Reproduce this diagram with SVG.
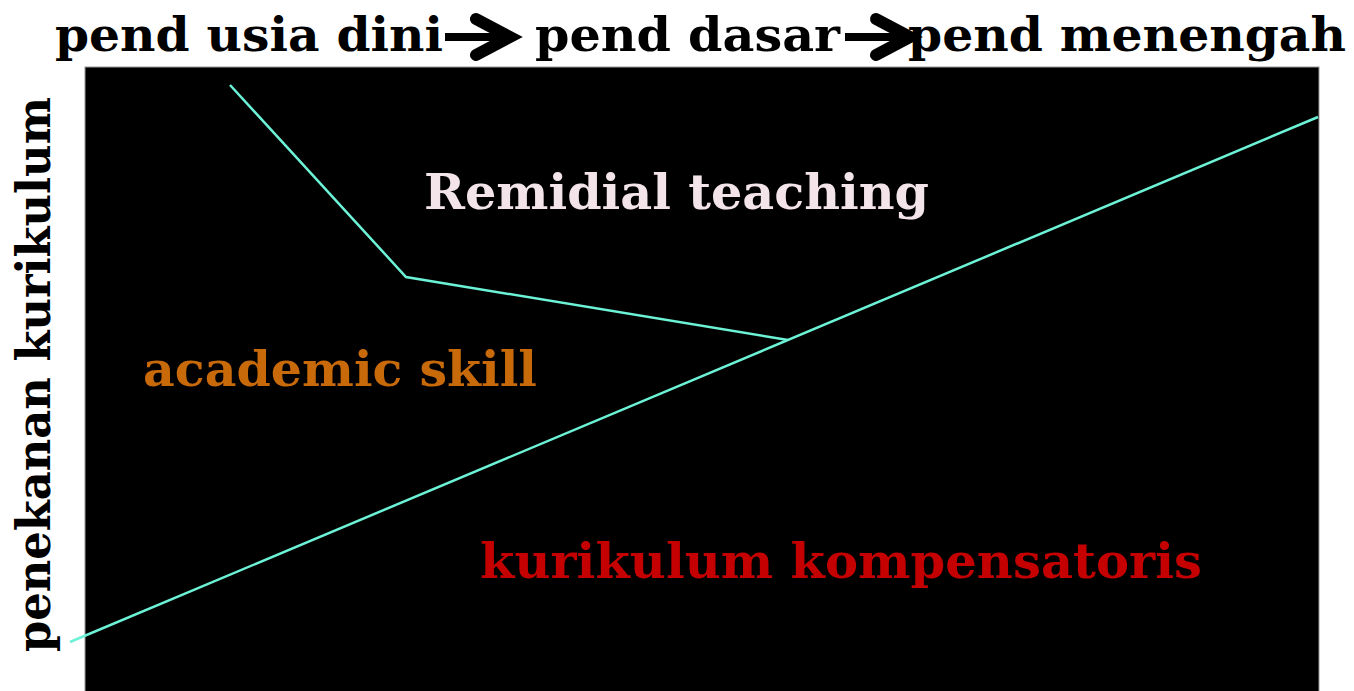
<svg xmlns="http://www.w3.org/2000/svg" width="1354" height="691" viewBox="0 0 1354 691">
<style>
.t{font-family:"DejaVu Serif","Liberation Serif",serif;font-weight:bold;}
.ttl{font-size:47px;fill:#000;}
.lbl{font-size:49px;}
.ln{fill:none;stroke:#6cf2d6;stroke-width:2.5;}
.shaft{fill:none;stroke:#000;stroke-width:8;}
.head{fill:none;stroke:#000;stroke-width:12;stroke-linecap:round;stroke-linejoin:miter;}
</style>
<rect width="1354" height="691" fill="#fff"/>
<g id="panel"><rect x="85" y="67" width="1234" height="630" fill="#000" stroke="#999" stroke-width="1"/></g>
<g id="title">
<text class="t ttl" x="55" y="51" textLength="388" lengthAdjust="spacingAndGlyphs">pend usia dini</text>
<text class="t ttl" x="535" y="51" textLength="305" lengthAdjust="spacingAndGlyphs">pend dasar</text>
<text class="t ttl" x="908" y="51" textLength="438" lengthAdjust="spacingAndGlyphs">pend menengah</text>
</g>
<g id="arrows">
<path class="shaft" d="M445 37 H505"/>
<path class="head" d="M476 19 L510 37 L476 55"/>
<path class="shaft" d="M845 37 H905"/>
<path class="head" d="M876 19 L910 37 L876 55"/>
</g>
<g id="axis-label"><text class="t ttl" transform="translate(50,652) rotate(-90)" x="0" y="0" textLength="555" lengthAdjust="spacingAndGlyphs">penekanan kurikulum</text></g>
<g id="connectors">
<polyline class="ln" points="70,642 1318,117"/>
<polyline class="ln" points="230,85 406,277 788,340"/>
</g>
<g id="remidial"><text class="t lbl" x="424" y="209" fill="#f3e4ea" textLength="505" lengthAdjust="spacingAndGlyphs">Remidial teaching</text></g>
<g id="academic"><text class="t lbl" x="143" y="386" fill="#c8690a" textLength="394" lengthAdjust="spacingAndGlyphs">academic skill</text></g>
<g id="kompensatoris"><text class="t lbl" x="480" y="578" fill="#c40000" textLength="722" lengthAdjust="spacingAndGlyphs">kurikulum kompensatoris</text></g>
</svg>
